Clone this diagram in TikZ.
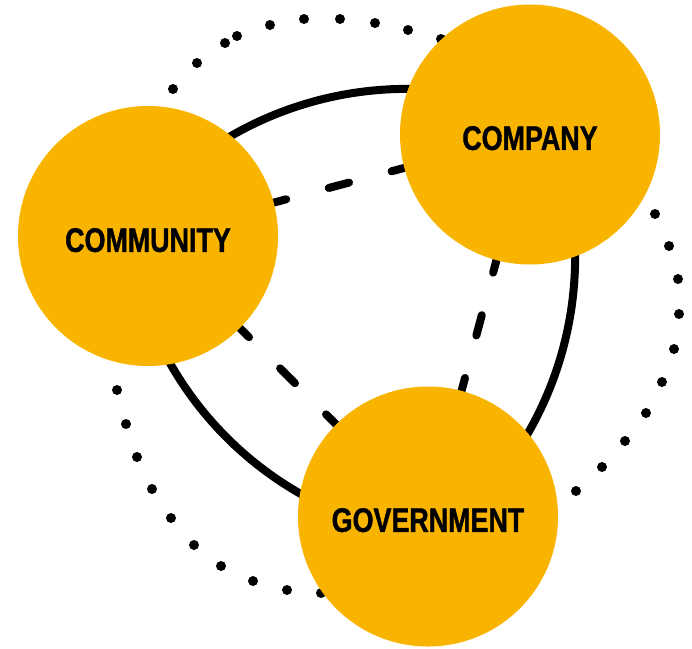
\documentclass[tikz,border=0pt]{standalone}
\usepackage{fontspec}
\newfontfamily\lblfont[FakeStretch=0.79,BoldFeatures={FakeBold=1.2}]{Liberation Sans}
\definecolor{amber}{RGB}{249,180,0}
\begin{document}
\begin{tikzpicture}[x=1pt,y=-1pt,
  hub/.style={circle, fill=amber, minimum size=260pt, inner sep=0pt},
  lbl/.style={font=\lblfont\bfseries\fontsize{34pt}{40pt}\selectfont, inner sep=0pt, text depth=0pt},
  ring/.style={line width=8pt},
  tie/.style={line width=8pt, line cap=round, dash pattern=on 21pt off 44pt, dash phase=8pt}]
\useasboundingbox (0,0) rectangle (692,648);

% outer dotted loop
\foreach \p in {(173,89),(197,63),(225,43),(237,36),(270,25),(304,19),(340,19),
  (375,23),(408,30),(441,39),(655,214),(669,246),(678,279),(679,314),(674,349),
  (662,382),(646,413),(625,441),(602,467),(576,491),(321,593),(287,590),(253,581),
  (221,566),(194,545),(171,518),(152,489),(137,457),(126,424),(117,390)}
  \fill \p circle (5pt);

% solid inner loop: three flat arcs meeting behind the hubs
\coordinate (mid) at (368,296);
\begin{scope}[shift={(mid)}]
  \draw[ring] (75:150) ++(-140:352) arc[start angle=-140, end angle=-70, radius=352];
  \draw[ring] (195:150) ++(-20:352) arc[start angle=-20, end angle=50, radius=352];
  \draw[ring] (-45:148) ++(100:348) arc[start angle=100, end angle=170, radius=348];
\end{scope}

% hub positions
\coordinate (pcomm) at (148,236);
\coordinate (pcomp) at (530,134.5);
\coordinate (pgov) at (428,516.5);

% dashed ties between hubs
\draw[tie] (pcomm) -- (pcomp);
\draw[tie] (pcomm) -- (pgov);
\draw[tie] (pcomp) -- (pgov);

% hubs
\node[hub] (comm) at (pcomm) {};
\node[hub] (comp) at (pcomp) {};
\node[hub] (gov) at (pgov) {};

\node[lbl] (tcomm) at ([yshift=-4pt]comm.center) {COMMUNITY};
\node[lbl] (tcomp) at ([yshift=-3.5pt]comp.center) {COMPANY};
\node[lbl] (tgov) at ([yshift=-3.5pt]gov.center) {GOVERNMENT};
\end{tikzpicture}
\end{document}
